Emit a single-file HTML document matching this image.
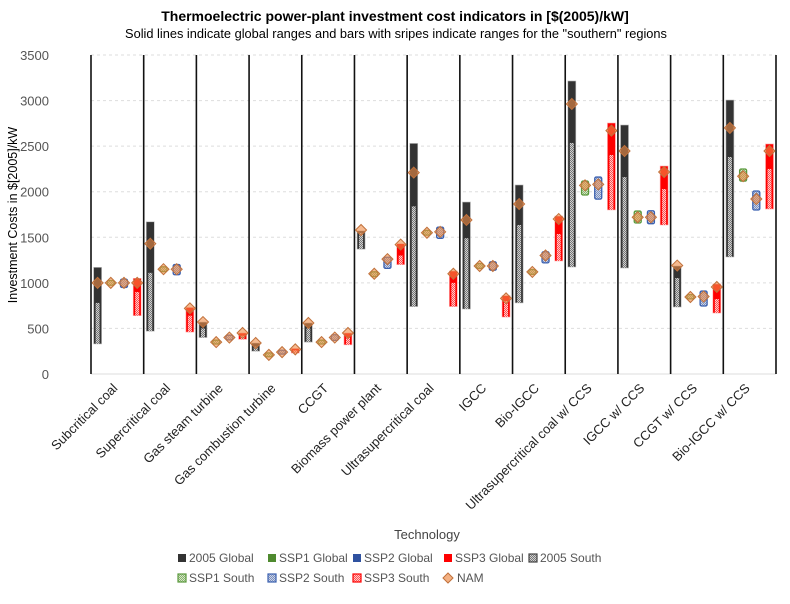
<!DOCTYPE html>
<html><head><meta charset="utf-8"><style>
body{margin:0;background:#fff;}
svg text{font-family:"Liberation Sans",Calibri,sans-serif;}
</style></head><body>
<svg id="s" width="790" height="599" viewBox="0 0 790 599" xmlns="http://www.w3.org/2000/svg">
<defs>
<pattern id="pg" width="2" height="2" patternUnits="userSpaceOnUse"><rect width="2" height="2" fill="#d0d0d0"/><rect width="1" height="1" fill="#777"/><rect x="1" y="1" width="1" height="1" fill="#777"/></pattern>
<pattern id="pr" width="2" height="2" patternUnits="userSpaceOnUse"><rect width="2" height="2" fill="#ffc8c8"/><rect width="1" height="1" fill="#ff5050"/><rect x="1" y="1" width="1" height="1" fill="#ff5050"/></pattern>
<pattern id="pb" width="2" height="2" patternUnits="userSpaceOnUse"><rect width="2" height="2" fill="#c8d4ec"/><rect width="1" height="1" fill="#8090b8"/><rect x="1" y="1" width="1" height="1" fill="#8090b8"/></pattern>
<pattern id="pgr" width="2" height="2" patternUnits="userSpaceOnUse"><rect width="2" height="2" fill="#d4e8c8"/><rect width="1" height="1" fill="#8ab070"/><rect x="1" y="1" width="1" height="1" fill="#8ab070"/></pattern>
</defs>
<text x="395" y="21" text-anchor="middle" font-size="14" font-weight="bold">Thermoelectric power-plant investment cost indicators in [$(2005)/kW]</text>
<text x="396" y="38" text-anchor="middle" font-size="12.8">Solid lines indicate global ranges and  bars with sripes indicate ranges for the "southern" regions</text>
<g id="g"></g>
<text transform="translate(17,215) rotate(-90)" text-anchor="middle" font-size="12.5">Investment  Costs in $[2005]/kW</text>
<text x="427" y="539" text-anchor="middle" font-size="13" fill="#444">Technology</text>
</svg>
<script>
const g=document.getElementById('g');let h='';
const Y=v=>374-v*0.09114;
for(let v=0;v<=3500;v+=500){const y=Y(v);
 if(v>0)h+=`<line x1="91" x2="776" y1="${y}" y2="${y}" stroke="#ddd" stroke-dasharray="3,3"/>`;
 h+=`<text x="49" y="${y+5}" text-anchor="end" font-size="13" fill="#555">${v}</text>`;}
h+=`<line x1="91" x2="776" y1="374" y2="374" stroke="#ddd"/>`;
const W=685/13;
for(let i=0;i<=13;i++){const x=91+i*W;h+=`<line x1="${x}" x2="${x}" y1="55" y2="374" stroke="#111" stroke-width="1.6"/>`;}
const D=[
[[330,1170,780,1000],[985,1015,1000],[960,1030,1000],[640,1050,900,1000]],
[[470,1670,1110,1430],[1135,1165,1150],[1100,1190,1150],[460,730,640,720]],
[[400,570,500,570],[340,360,350],[385,415,400],[380,450,420,450]],
[[250,340,300,340],[200,220,210],[230,250,240],[230,280,260,270]],
[[350,560,500,560],[340,360,350],[380,420,400],[320,450,400,450]],
[[1370,1570,1550,1580],[1080,1110,1100],[1170,1270,1260],[1200,1430,1300,1420]],
[[740,2530,1840,2210],[1535,1565,1550],[1500,1600,1560],[740,1130,1000,1100]],
[[713,1887,1490,1690],[1170,1200,1185],[1150,1220,1185],[625,860,800,830]],
[[780,2074,1635,1865],[1105,1135,1120],[1230,1330,1300],[1240,1733,1536,1700]],
[[1174,3215,2535,2963],[1975,2107,2070],[1930,2150,2080],[1800,2754,2403,2670]],
[[1163,2732,2161,2447],[1668,1777,1720],[1660,1780,1720],[1635,2282,2030,2216]],
[[735,1185,1053,1190],[835,860,845],[757,900,850],[669,988,823,955]],
[[1284,3006,2381,2700],[2128,2238,2170],[1810,1997,1920],[1810,2524,2250,2447]]];
const names=["Subcritical coal","Supercritical coal","Gas steam turbine","Gas combustion turbine","CCGT","Biomass power plant","Ultrasupercritical coal","IGCC","Bio-IGCC","Ultrasupercritical coal w/ CCS","IGCC w/ CCS","CCGT w/ CCS","Bio-IGCC w/ CCS"];
const dia=(x,v)=>{const y=Y(v);return `<path d="M${x} ${y-5.5}L${x+5.5} ${y}L${x} ${y+5.5}L${x-5.5} ${y}Z" fill="rgba(240,140,70,0.6)" stroke="#c0703a" stroke-width="1"/>`;};
D.forEach((d,i)=>{const x0=91+i*W;const px=k=>x0+6.6+13.2*k;
 let [a,b,c,n]=d[0];let x=px(0);
 h+=`<rect x="${x-4}" y="${Y(b)}" width="8" height="${Y(a)-Y(b)}" fill="#333" stroke="#bbb" stroke-width="0.6"/>`;
 h+=`<rect x="${x-2}" y="${Y(c)}" width="4" height="${Y(a)-Y(c)}" fill="url(#pg)"/>`;
 h+=dia(x,n);
 [a,b,n]=d[1];x=px(1);
 h+=`<rect x="${x-3.5}" y="${Y(b)-1}" width="7" height="${Y(a)-Y(b)+2}" rx="1.5" fill="url(#pgr)" stroke="#5a9a3c" stroke-width="1.3"/>`;h+=dia(x,n);
 [a,b,n]=d[2];x=px(2);
 h+=`<rect x="${x-3.5}" y="${Y(b)-1}" width="7" height="${Y(a)-Y(b)+2}" rx="1.5" fill="url(#pb)" stroke="#3a60b0" stroke-width="1.3"/>`;h+=dia(x,n);
 [a,b,c,n]=d[3];x=px(3);
 h+=`<rect x="${x-4}" y="${Y(b)}" width="8" height="${Y(a)-Y(b)}" fill="#f00" stroke="#ffb0b0" stroke-width="0.6"/>`;
 h+=`<rect x="${x-2}" y="${Y(c)}" width="4" height="${Y(a)-Y(c)}" fill="url(#pr)"/>`;h+=dia(x,n);
 const cx=x0+W/2+1;
 h+=`<text transform="translate(${cx},389) rotate(-45)" text-anchor="end" font-size="13" fill="#222">${names[i]}</text>`;
});
const L=[[178,562,'#333',null,'2005 Global'],[268,562,'#4f8a2f',null,'SSP1 Global'],[353,562,'#2f52a0',null,'SSP2 Global'],[444,562,'#f00',null,'SSP3 Global'],[529,562,'#444','pg','2005 South'],
[178,582,'#5a9a3c','pgr','SSP1 South'],[268,582,'#3a60b0','pb','SSP2 South'],[353,582,'#f00','pr','SSP3 South']];
L.forEach(([x,y,c,p,t])=>{h+=`<rect x="${x}" y="${y-8}" width="8" height="8" fill="${p?'url(#'+p+')':c}" stroke="${c}" stroke-width="${p?1.2:0}"/><text x="${x+11}" y="${y}" font-size="12" fill="#555">${t}</text>`;});
h+=`<path d="M448 573L453 578L448 583L443 578Z" fill="#f4b183" stroke="#c0703a"/><text x="457" y="582" font-size="12" fill="#555">NAM</text>`;
g.innerHTML=h;
</script>
</body></html>
